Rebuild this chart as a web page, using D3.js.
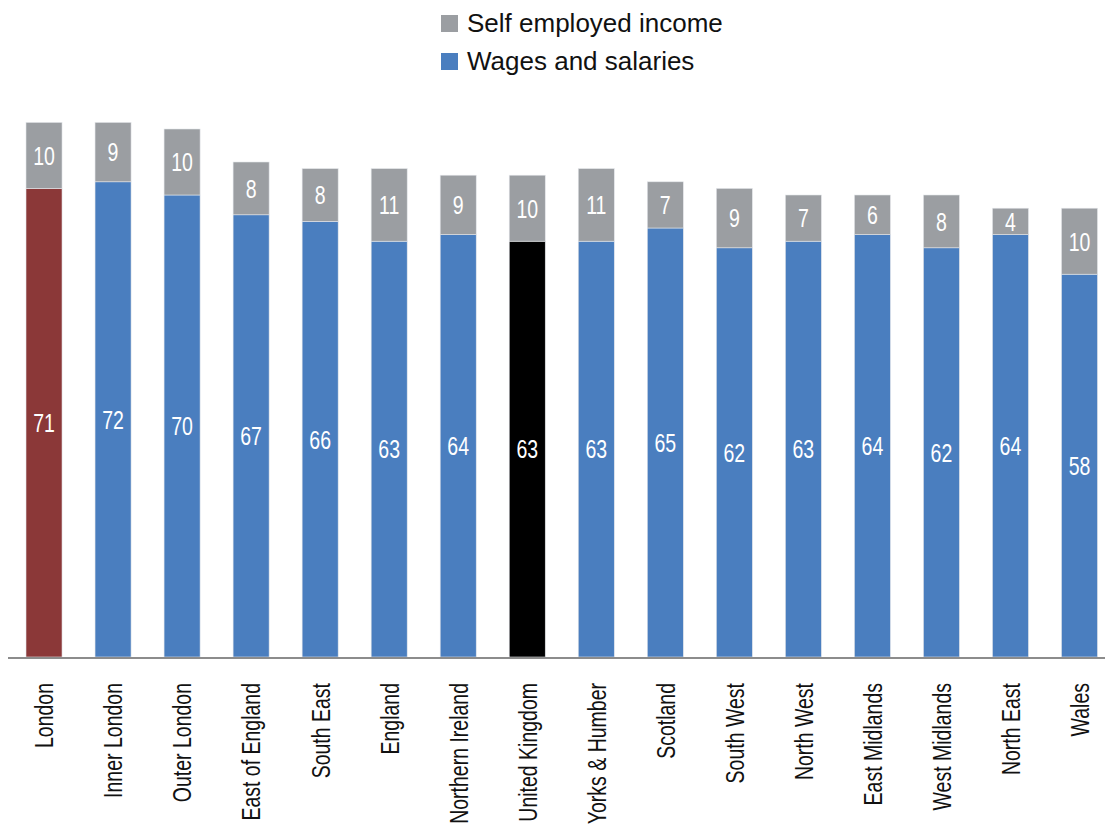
<!DOCTYPE html>
<html>
<head>
<meta charset="utf-8">
<script src="https://cdn.jsdelivr.net/npm/d3@7"></script>
<style>
  html, body { margin: 0; padding: 0; background: #fff; }
  svg { display: block; }
  text { font-family: "Liberation Sans", Arial, sans-serif; }
</style>
</head>
<body>
<svg id="chart" width="1105" height="826"></svg>
<script>
// Regions, ordered as published
const regions = ["London", "Inner London", "Outer London", "East of England", "South East",
  "England", "Northern Ireland", "United Kingdom", "Yorks & Humber", "Scotland",
  "South West", "North West", "East Midlands", "West Midlands", "North East", "Wales"];
// Wages and salaries (lower segment)
const wages = [71, 72, 70, 67, 66, 63, 64, 63, 63, 65, 62, 63, 64, 62, 64, 58];
// Self employed income (upper segment)
const selfEmployed = [10, 9, 10, 8, 8, 11, 9, 10, 11, 7, 9, 7, 6, 8, 4, 10];
const seriesNames = ["Self employed income", "Wages and salaries"];

const colors = { self: "#9b9ea2", wages: "#4a7ebf", London: "#8b3838", "United Kingdom": "#000000" };
const narrow = 0.75; // horizontal squeeze for a condensed look

const svg = d3.select("#chart");
const baseY = 657;

const x = d3.scaleBand().domain(regions).range([9.5, 1114]).paddingInner(0.478).paddingOuter(0.239);
const y = d3.scaleLinear().domain([0, 80]).range([baseY, baseY - 6.6 * 80]);

const rows = regions.map((r, i) => ({ region: r, wages: wages[i], self: selfEmployed[i] }));
const stack = d3.stack().keys(["wages", "self"])(rows);

const g = svg.append("g");
stack.forEach(layer => {
  const key = layer.key;
  const lg = g.append("g");
  lg.selectAll("rect").data(layer).join("rect")
    .attr("x", d => x(d.data.region))
    .attr("width", x.bandwidth())
    .attr("y", d => y(d[1]))
    .attr("height", d => y(d[0]) - y(d[1]))
    .attr("fill", d => key === "wages" ? (colors[d.data.region] || colors.wages) : colors.self)
    .attr("stroke", "#e4e6ea")
    .attr("stroke-width", 0.6);
  lg.selectAll("text").data(layer).join("text")
    .attr("transform", d => `translate(${x(d.data.region) + x.bandwidth() / 2},${(y(d[0]) + y(d[1])) / 2}) scale(${narrow},1)`)
    .attr("dy", "0.36em")
    .attr("text-anchor", "middle")
    .attr("fill", "#fff")
    .attr("font-size", 26)
    .text(d => d[1] - d[0]);
});

// Category axis
const xAxis = svg.append("g").attr("transform", `translate(0,${baseY})`)
  .call(d3.axisBottom(x).tickSize(0).tickPadding(0));
xAxis.select(".domain").remove();
svg.append("line").attr("x1", 8).attr("x2", 1105).attr("y1", baseY + 1).attr("y2", baseY + 1)
  .attr("stroke", "#8c8c8c").attr("stroke-width", 2.2);
xAxis.selectAll(".tick text")
  .attr("font-size", 26)
  .attr("fill", "#111")
  .attr("x", 0)
  .attr("y", 0)
  .attr("dy", "0.36em")
  .attr("text-anchor", "end")
  .attr("transform", `translate(0,26) rotate(-90) scale(${narrow},1)`);

// Legend
const legend = svg.append("g");
const legendColors = [colors.self, colors.wages];
seriesNames.forEach((name, i) => {
  const ly = 15 + i * 38;
  legend.append("rect").attr("x", 441).attr("y", ly).attr("width", 17).attr("height", 17)
    .attr("fill", legendColors[i]);
  legend.append("text").attr("x", 467).attr("y", ly + 17).attr("font-size", 26)
    .attr("fill", "#111").text(name);
});
</script>
</body>
</html>
